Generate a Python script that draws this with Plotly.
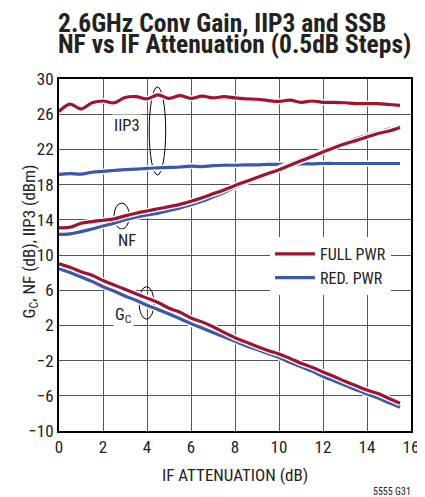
import plotly.graph_objects as go

x_att = [i * 0.5 for i in range(32)]

iip3_full = [26.3, 27.15, 26.6, 27.3, 27.5, 27.3, 27.9, 28.0, 27.75, 28.2, 27.8, 28.1,
             27.8, 28.05, 27.85, 28.0, 27.85, 27.75, 27.7, 27.55, 27.45, 27.6, 27.35, 27.5,
             27.35, 27.35, 27.3, 27.2, 27.2, 27.2, 27.1, 27.0]
iip3_red = [19.15, 19.25, 19.2, 19.4, 19.5, 19.6, 19.7, 19.75, 19.85, 19.9, 19.95, 20.0,
            20.1, 20.05, 20.15, 20.2, 20.2, 20.25, 20.25, 20.3, 20.3, 20.3, 20.35, 20.35,
            20.4, 20.4, 20.4, 20.4, 20.4, 20.4, 20.4, 20.4]
nf_full = [13.1, 13.15, 13.6, 13.8, 13.95, 14.1, 14.45, 14.75, 15.0, 15.25, 15.5, 15.75,
           16.1, 16.5, 16.95, 17.4, 17.9, 18.35, 18.8, 19.25, 19.7, 20.2, 20.7, 21.2,
           21.7, 22.2, 22.65, 23.0, 23.4, 23.8, 24.1, 24.5]
nf_red = [12.35, 12.4, 12.65, 12.95, 13.3, 13.6, 14.0, 14.3, 14.55, 14.75, 15.05, 15.35,
          15.7, 16.1, 16.6, 17.1, 17.7, 18.25, 18.8, 19.3, 19.85, 20.35, 20.85, 21.35,
          21.85, 22.35, 22.8, 23.2, 23.6, 23.95, 24.3, 24.6]
gc_full = [9.0, 8.6, 8.1, 7.7, 7.1, 6.6, 6.1, 5.6, 5.1, 4.6, 3.95, 3.5,
           2.85, 2.4, 1.85, 1.2, 0.6, 0.1, -0.4, -0.85, -1.25, -1.75, -2.3, -2.75,
           -3.3, -3.8, -4.35, -4.85, -5.35, -5.75, -6.3, -6.85]
gc_red = [8.45, 8.0, 7.5, 7.0, 6.4, 5.9, 5.35, 4.85, 4.3, 3.8, 3.3, 2.75,
          2.2, 1.7, 1.2, 0.7, 0.2, -0.3, -0.75, -1.2, -1.65, -2.2, -2.7, -3.2,
          -3.8, -4.3, -4.8, -5.3, -5.8, -6.25, -6.8, -7.3]

x_ticks = [0, 2, 4, 6, 8, 10, 12, 14, 16]
y_ticks = [-10, -6, -2, 2, 6, 10, 14, 18, 22, 26, 30]
y_tick_text = ["\u221210", "\u22126", "\u22122", "2", "6", "10", "14", "18", "22", "26", "30"]

RED = "#A0142F"
BLUE = "#3C58A8"
FONT = "Roboto Condensed, Roboto, Arial, sans-serif"

# page has an 8px body margin: the figure starts at (8, 8) in the window
PLOT_L, PLOT_R, PLOT_T, PLOT_B = 59, 411, 79, 431   # plot area in window pixels
PW, PH = PLOT_R - PLOT_L, PLOT_B - PLOT_T


def px(xp):
    return (xp - PLOT_L) / PW


def py(yp):
    return (PLOT_B - yp) / PH


fig = go.Figure()

series = [
    (iip3_red, BLUE, False, "RED. PWR"),
    (nf_red, BLUE, False, "RED. PWR"),
    (gc_red, BLUE, True, "RED. PWR"),
    (iip3_full, RED, False, "FULL PWR"),
    (nf_full, RED, False, "FULL PWR"),
    (gc_full, RED, True, "FULL PWR"),
]
for ys, col, show, name in series:
    fig.add_trace(go.Scatter(x=x_att, y=ys, mode="lines", line=dict(color="white", width=6, shape="spline"),
                             showlegend=False, hoverinfo="skip"))
    fig.add_trace(go.Scatter(x=x_att, y=ys, mode="lines", line=dict(color=col, width=3.2, shape="spline"),
                             name=name, showlegend=show, legendrank=1 if name == "FULL PWR" else 2))

# ellipses
for x0, x1, y0, y1 in [(4.1, 4.85, 19.1, 29.1), (2.5, 3.2, 12.95, 15.9), (3.64, 4.32, 2.7, 6.4)]:
    fig.add_shape(type="circle", xref="x", yref="y", x0=x0, x1=x1, y0=y0, y1=y1, layer="between",
                  line=dict(color="black", width=1))

lab_font = dict(family=FONT, size=16.5, color="#222")
fig.add_annotation(x=3.09, y=24.66, text="IIP3", showarrow=False, font=lab_font, bgcolor="white")
fig.add_annotation(x=3.09, y=11.7, text="NF", showarrow=False, font=lab_font, bgcolor="white")
fig.add_annotation(x=2.95, y=3.1, text="G<sub>C</sub>", showarrow=False, font=lab_font, bgcolor="white")

title_font = dict(family=FONT, size=25.5, color="#222")
fig.add_annotation(xref="paper", yref="paper", x=px(56), y=py(23), xanchor="left", yanchor="middle",
                   text="<b>2.6GHz Conv Gain, IIP3 and SSB</b>", showarrow=False, font=title_font)
fig.add_annotation(xref="paper", yref="paper", x=px(56), y=py(44), xanchor="left", yanchor="middle",
                   text="<b>NF vs IF Attenuation (0.5dB Steps)</b>", showarrow=False, font=title_font)

fig.add_annotation(xref="paper", yref="paper", x=px(17), y=py(242), textangle=-90,
                   text="G<sub>C</sub>, NF (dB), IIP3 (dBm)", showarrow=False,
                   font=dict(family=FONT, size=17, color="#222"))
fig.add_annotation(xref="paper", yref="paper", x=0.5, y=py(475),
                   text="IF ATTENUATION (dB)", showarrow=False, xanchor="center", yanchor="middle",
                   font=dict(family=FONT, size=17, color="#222"))
fig.add_annotation(xref="paper", yref="paper", x=px(413), y=py(491),
                   text="5555 G31", showarrow=False, xanchor="right", yanchor="middle",
                   font=dict(family=FONT, size=10, color="#222"))

axis_common = dict(showgrid=True, gridcolor="#555", gridwidth=1, showline=True, linecolor="black",
                   linewidth=2, mirror=True, zeroline=False, automargin=False, ticks="",
                   tickfont=dict(family=FONT, size=17, color="#222"))
fig.update_xaxes(range=[0, 16], tickvals=x_ticks, **axis_common)
fig.update_yaxes(range=[-10, 30], tickvals=y_ticks, ticktext=y_tick_text, **axis_common)

W, H = 417, 489
fig.update_layout(
    width=W, height=H,
    margin=dict(l=PLOT_L - 8, r=W - (PLOT_R - 8), t=PLOT_T - 8, b=H - (PLOT_B - 8), autoexpand=False),
    paper_bgcolor="white", plot_bgcolor="white",
    showlegend=True,
    legend=dict(x=px(270), y=py(237), xanchor="left", yanchor="top", bgcolor="white",
                font=dict(family=FONT, size=16, color="#222"), itemwidth=40,
                tracegroupgap=0),
)

fig.write_html("out.html")
